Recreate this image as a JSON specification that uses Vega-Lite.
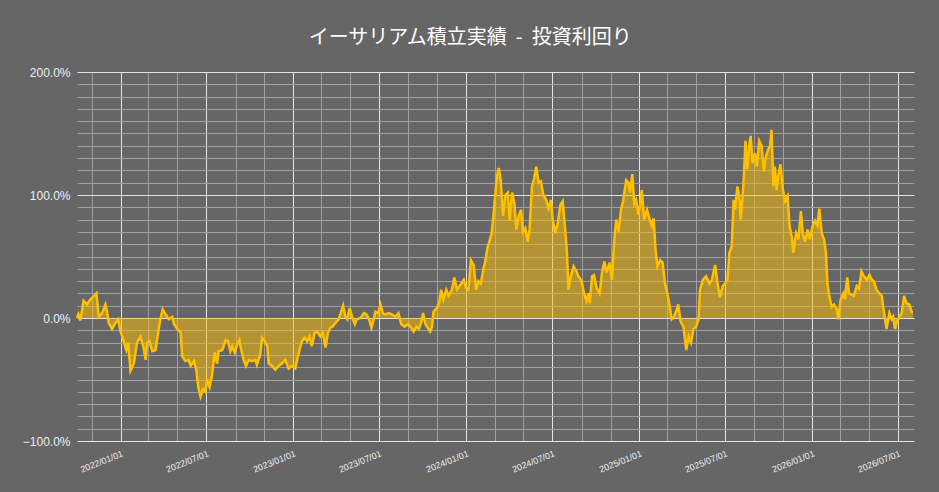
{
  "$schema": "https://vega.github.io/schema/vega-lite/v6.json",
  "width": 837,
  "height": 369,
  "autosize": {"type": "none"},
  "padding": {"left": 77, "top": 72, "right": 25, "bottom": 51},
  "background": "#666666",
  "title": {
    "text": "イーサリアム積立実績\u00a0\u00a0-\u00a0\u00a0投資利回り",
    "color": "#ffffff",
    "fontSize": 20,
    "font": "Noto Sans CJK JP",
    "fontWeight": "normal",
    "anchor": "middle",
    "frame": "bounds",
    "offset": 18
  },
  "config": {
    "view": {"stroke": null},
    "axis": {"title": null, "ticks": false, "domain": false, "gridWidth": 1, "gridOpacity": 1}
  },
  "data": {
    "values": [
      {"d": "2021-10-01", "v": 0}, {"d": "2021-10-04", "v": 3}, {"d": "2021-10-08", "v": -2},
      {"d": "2021-10-11", "v": 5}, {"d": "2021-10-15", "v": 14}, {"d": "2021-10-22", "v": 11},
      {"d": "2021-10-29", "v": 15}, {"d": "2021-11-06", "v": 18}, {"d": "2021-11-11", "v": 20},
      {"d": "2021-11-16", "v": 1}, {"d": "2021-11-23", "v": 4}, {"d": "2021-11-30", "v": 11},
      {"d": "2021-12-04", "v": 4}, {"d": "2021-12-07", "v": -4}, {"d": "2021-12-14", "v": -9},
      {"d": "2021-12-21", "v": -4}, {"d": "2021-12-27", "v": -1}, {"d": "2022-01-01", "v": -11},
      {"d": "2022-01-08", "v": -19}, {"d": "2022-01-13", "v": -26}, {"d": "2022-01-17", "v": -20},
      {"d": "2022-01-22", "v": -43}, {"d": "2022-01-29", "v": -37}, {"d": "2022-02-05", "v": -20},
      {"d": "2022-02-12", "v": -15}, {"d": "2022-02-18", "v": -23}, {"d": "2022-02-23", "v": -34},
      {"d": "2022-02-26", "v": -20}, {"d": "2022-03-03", "v": -19}, {"d": "2022-03-09", "v": -27},
      {"d": "2022-03-16", "v": -26}, {"d": "2022-03-19", "v": -18}, {"d": "2022-03-26", "v": -1},
      {"d": "2022-03-31", "v": 7}, {"d": "2022-04-06", "v": 3}, {"d": "2022-04-13", "v": -1},
      {"d": "2022-04-20", "v": 1}, {"d": "2022-04-24", "v": -5}, {"d": "2022-05-01", "v": -9},
      {"d": "2022-05-08", "v": -12}, {"d": "2022-05-11", "v": -31}, {"d": "2022-05-18", "v": -35},
      {"d": "2022-05-25", "v": -34}, {"d": "2022-05-29", "v": -39}, {"d": "2022-06-05", "v": -35},
      {"d": "2022-06-10", "v": -42}, {"d": "2022-06-14", "v": -56}, {"d": "2022-06-19", "v": -64},
      {"d": "2022-06-24", "v": -58}, {"d": "2022-06-29", "v": -60}, {"d": "2022-07-03", "v": -50},
      {"d": "2022-07-08", "v": -56}, {"d": "2022-07-13", "v": -47}, {"d": "2022-07-19", "v": -28},
      {"d": "2022-07-24", "v": -37}, {"d": "2022-07-27", "v": -27}, {"d": "2022-08-04", "v": -26},
      {"d": "2022-08-11", "v": -18}, {"d": "2022-08-16", "v": -19}, {"d": "2022-08-21", "v": -27},
      {"d": "2022-08-25", "v": -23}, {"d": "2022-08-30", "v": -28}, {"d": "2022-09-04", "v": -22},
      {"d": "2022-09-09", "v": -18}, {"d": "2022-09-13", "v": -26}, {"d": "2022-09-18", "v": -34},
      {"d": "2022-09-23", "v": -39}, {"d": "2022-09-29", "v": -34}, {"d": "2022-10-06", "v": -35},
      {"d": "2022-10-13", "v": -34}, {"d": "2022-10-16", "v": -38}, {"d": "2022-10-23", "v": -30},
      {"d": "2022-10-27", "v": -16}, {"d": "2022-11-02", "v": -19}, {"d": "2022-11-07", "v": -23},
      {"d": "2022-11-10", "v": -37}, {"d": "2022-11-17", "v": -39}, {"d": "2022-11-24", "v": -42},
      {"d": "2022-12-01", "v": -39}, {"d": "2022-12-08", "v": -37}, {"d": "2022-12-15", "v": -34},
      {"d": "2022-12-22", "v": -41}, {"d": "2022-12-29", "v": -39}, {"d": "2023-01-05", "v": -41},
      {"d": "2023-01-09", "v": -34}, {"d": "2023-01-14", "v": -26}, {"d": "2023-01-19", "v": -19},
      {"d": "2023-01-25", "v": -16}, {"d": "2023-01-30", "v": -19}, {"d": "2023-02-04", "v": -15},
      {"d": "2023-02-09", "v": -23}, {"d": "2023-02-15", "v": -12}, {"d": "2023-02-20", "v": -11},
      {"d": "2023-02-27", "v": -15}, {"d": "2023-03-04", "v": -12}, {"d": "2023-03-10", "v": -24},
      {"d": "2023-03-15", "v": -12}, {"d": "2023-03-20", "v": -8}, {"d": "2023-03-25", "v": -7},
      {"d": "2023-03-31", "v": -4}, {"d": "2023-04-07", "v": -1}, {"d": "2023-04-12", "v": 5},
      {"d": "2023-04-16", "v": 10}, {"d": "2023-04-21", "v": 1}, {"d": "2023-04-25", "v": -1},
      {"d": "2023-04-30", "v": 8}, {"d": "2023-05-05", "v": 1}, {"d": "2023-05-11", "v": -5},
      {"d": "2023-05-15", "v": -1}, {"d": "2023-05-23", "v": 0}, {"d": "2023-05-30", "v": 4},
      {"d": "2023-06-04", "v": 3}, {"d": "2023-06-09", "v": 0}, {"d": "2023-06-15", "v": -8},
      {"d": "2023-06-20", "v": -1}, {"d": "2023-06-23", "v": 5}, {"d": "2023-06-29", "v": 4},
      {"d": "2023-07-04", "v": 11}, {"d": "2023-07-09", "v": 4}, {"d": "2023-07-14", "v": 3},
      {"d": "2023-07-21", "v": 4}, {"d": "2023-07-28", "v": 3}, {"d": "2023-08-04", "v": 1},
      {"d": "2023-08-11", "v": 4}, {"d": "2023-08-17", "v": -5}, {"d": "2023-08-24", "v": -7},
      {"d": "2023-08-31", "v": -5}, {"d": "2023-09-07", "v": -8}, {"d": "2023-09-12", "v": -11},
      {"d": "2023-09-18", "v": -7}, {"d": "2023-09-23", "v": -9}, {"d": "2023-09-28", "v": -4},
      {"d": "2023-10-02", "v": 4}, {"d": "2023-10-07", "v": -5}, {"d": "2023-10-12", "v": -8},
      {"d": "2023-10-17", "v": -11}, {"d": "2023-10-21", "v": -7}, {"d": "2023-10-24", "v": 5},
      {"d": "2023-10-31", "v": 8}, {"d": "2023-11-05", "v": 12}, {"d": "2023-11-09", "v": 23},
      {"d": "2023-11-14", "v": 15}, {"d": "2023-11-20", "v": 23}, {"d": "2023-11-25", "v": 18},
      {"d": "2023-12-02", "v": 23}, {"d": "2023-12-07", "v": 33}, {"d": "2023-12-13", "v": 23},
      {"d": "2023-12-20", "v": 27}, {"d": "2023-12-27", "v": 31}, {"d": "2024-01-01", "v": 24},
      {"d": "2024-01-06", "v": 23}, {"d": "2024-01-11", "v": 47}, {"d": "2024-01-17", "v": 43},
      {"d": "2024-01-22", "v": 23}, {"d": "2024-01-27", "v": 30}, {"d": "2024-02-01", "v": 28},
      {"d": "2024-02-07", "v": 41}, {"d": "2024-02-10", "v": 45}, {"d": "2024-02-15", "v": 57},
      {"d": "2024-02-21", "v": 65}, {"d": "2024-02-24", "v": 69}, {"d": "2024-02-28", "v": 85},
      {"d": "2024-03-02", "v": 98}, {"d": "2024-03-06", "v": 115}, {"d": "2024-03-10", "v": 122},
      {"d": "2024-03-14", "v": 112}, {"d": "2024-03-19", "v": 83}, {"d": "2024-03-24", "v": 100},
      {"d": "2024-03-29", "v": 102}, {"d": "2024-04-02", "v": 79}, {"d": "2024-04-07", "v": 102},
      {"d": "2024-04-12", "v": 93}, {"d": "2024-04-16", "v": 72}, {"d": "2024-04-21", "v": 83},
      {"d": "2024-04-26", "v": 88}, {"d": "2024-04-30", "v": 70}, {"d": "2024-05-05", "v": 73},
      {"d": "2024-05-10", "v": 62}, {"d": "2024-05-14", "v": 72}, {"d": "2024-05-19", "v": 107},
      {"d": "2024-05-24", "v": 114}, {"d": "2024-05-28", "v": 123}, {"d": "2024-06-02", "v": 110},
      {"d": "2024-06-07", "v": 111}, {"d": "2024-06-12", "v": 100}, {"d": "2024-06-18", "v": 96},
      {"d": "2024-06-23", "v": 89}, {"d": "2024-06-28", "v": 96}, {"d": "2024-07-02", "v": 80},
      {"d": "2024-07-07", "v": 69}, {"d": "2024-07-12", "v": 76}, {"d": "2024-07-18", "v": 92},
      {"d": "2024-07-23", "v": 95}, {"d": "2024-07-28", "v": 73}, {"d": "2024-08-01", "v": 53},
      {"d": "2024-08-04", "v": 23}, {"d": "2024-08-09", "v": 34}, {"d": "2024-08-15", "v": 42},
      {"d": "2024-08-21", "v": 38}, {"d": "2024-08-25", "v": 34}, {"d": "2024-09-01", "v": 30},
      {"d": "2024-09-06", "v": 20}, {"d": "2024-09-11", "v": 14}, {"d": "2024-09-15", "v": 20},
      {"d": "2024-09-18", "v": 12}, {"d": "2024-09-23", "v": 34}, {"d": "2024-09-27", "v": 35},
      {"d": "2024-10-03", "v": 24}, {"d": "2024-10-09", "v": 20}, {"d": "2024-10-14", "v": 37},
      {"d": "2024-10-19", "v": 46}, {"d": "2024-10-24", "v": 37}, {"d": "2024-10-30", "v": 45},
      {"d": "2024-11-04", "v": 31}, {"d": "2024-11-09", "v": 64}, {"d": "2024-11-13", "v": 80},
      {"d": "2024-11-18", "v": 70}, {"d": "2024-11-23", "v": 88}, {"d": "2024-11-28", "v": 96},
      {"d": "2024-12-04", "v": 112}, {"d": "2024-12-09", "v": 110}, {"d": "2024-12-12", "v": 102},
      {"d": "2024-12-17", "v": 117}, {"d": "2024-12-21", "v": 93}, {"d": "2024-12-25", "v": 96},
      {"d": "2024-12-30", "v": 84}, {"d": "2025-01-03", "v": 93}, {"d": "2025-01-06", "v": 104},
      {"d": "2025-01-11", "v": 80}, {"d": "2025-01-17", "v": 88}, {"d": "2025-01-22", "v": 81},
      {"d": "2025-01-27", "v": 75}, {"d": "2025-01-31", "v": 81}, {"d": "2025-02-04", "v": 56},
      {"d": "2025-02-08", "v": 42}, {"d": "2025-02-14", "v": 47}, {"d": "2025-02-19", "v": 45},
      {"d": "2025-02-24", "v": 28}, {"d": "2025-03-01", "v": 20}, {"d": "2025-03-05", "v": 12},
      {"d": "2025-03-10", "v": -1}, {"d": "2025-03-15", "v": 1}, {"d": "2025-03-21", "v": 7},
      {"d": "2025-03-24", "v": 11}, {"d": "2025-03-29", "v": -3}, {"d": "2025-04-04", "v": -7},
      {"d": "2025-04-10", "v": -26}, {"d": "2025-04-15", "v": -15}, {"d": "2025-04-20", "v": -20},
      {"d": "2025-04-25", "v": -9}, {"d": "2025-05-01", "v": -7}, {"d": "2025-05-06", "v": -1},
      {"d": "2025-05-09", "v": 23}, {"d": "2025-05-15", "v": 31}, {"d": "2025-05-22", "v": 34},
      {"d": "2025-05-29", "v": 28}, {"d": "2025-06-03", "v": 31}, {"d": "2025-06-10", "v": 43},
      {"d": "2025-06-15", "v": 28}, {"d": "2025-06-20", "v": 17}, {"d": "2025-06-26", "v": 26},
      {"d": "2025-07-01", "v": 28}, {"d": "2025-07-06", "v": 31}, {"d": "2025-07-10", "v": 53},
      {"d": "2025-07-15", "v": 58}, {"d": "2025-07-19", "v": 96}, {"d": "2025-07-22", "v": 88},
      {"d": "2025-07-27", "v": 107}, {"d": "2025-07-31", "v": 99}, {"d": "2025-08-03", "v": 80},
      {"d": "2025-08-07", "v": 99}, {"d": "2025-08-10", "v": 118}, {"d": "2025-08-13", "v": 144},
      {"d": "2025-08-17", "v": 121}, {"d": "2025-08-21", "v": 140}, {"d": "2025-08-24", "v": 148},
      {"d": "2025-08-28", "v": 126}, {"d": "2025-09-02", "v": 134}, {"d": "2025-09-06", "v": 123},
      {"d": "2025-09-11", "v": 144}, {"d": "2025-09-16", "v": 140}, {"d": "2025-09-21", "v": 119},
      {"d": "2025-09-25", "v": 131}, {"d": "2025-09-30", "v": 137}, {"d": "2025-10-04", "v": 140},
      {"d": "2025-10-07", "v": 153}, {"d": "2025-10-11", "v": 107}, {"d": "2025-10-14", "v": 123},
      {"d": "2025-10-18", "v": 104}, {"d": "2025-10-21", "v": 115}, {"d": "2025-10-26", "v": 125},
      {"d": "2025-10-31", "v": 104}, {"d": "2025-11-05", "v": 95}, {"d": "2025-11-10", "v": 99},
      {"d": "2025-11-14", "v": 75}, {"d": "2025-11-19", "v": 66}, {"d": "2025-11-22", "v": 53},
      {"d": "2025-11-28", "v": 69}, {"d": "2025-12-03", "v": 64}, {"d": "2025-12-08", "v": 87},
      {"d": "2025-12-12", "v": 69}, {"d": "2025-12-17", "v": 62}, {"d": "2025-12-22", "v": 72},
      {"d": "2025-12-27", "v": 64}, {"d": "2026-01-02", "v": 75}, {"d": "2026-01-07", "v": 79},
      {"d": "2026-01-12", "v": 75}, {"d": "2026-01-16", "v": 89}, {"d": "2026-01-21", "v": 69},
      {"d": "2026-01-26", "v": 64}, {"d": "2026-01-30", "v": 53}, {"d": "2026-02-02", "v": 28},
      {"d": "2026-02-06", "v": 18}, {"d": "2026-02-11", "v": 9}, {"d": "2026-02-16", "v": 11},
      {"d": "2026-02-22", "v": 7}, {"d": "2026-02-25", "v": -1}, {"d": "2026-03-02", "v": 15},
      {"d": "2026-03-08", "v": 20}, {"d": "2026-03-11", "v": 15}, {"d": "2026-03-16", "v": 33},
      {"d": "2026-03-20", "v": 20}, {"d": "2026-03-25", "v": 19}, {"d": "2026-03-30", "v": 18},
      {"d": "2026-04-05", "v": 26}, {"d": "2026-04-10", "v": 24}, {"d": "2026-04-15", "v": 38},
      {"d": "2026-04-20", "v": 34}, {"d": "2026-04-26", "v": 31}, {"d": "2026-05-02", "v": 35},
      {"d": "2026-05-07", "v": 31}, {"d": "2026-05-11", "v": 30}, {"d": "2026-05-17", "v": 23},
      {"d": "2026-05-23", "v": 20}, {"d": "2026-05-28", "v": 18}, {"d": "2026-05-31", "v": 9},
      {"d": "2026-06-04", "v": -1}, {"d": "2026-06-07", "v": -9}, {"d": "2026-06-13", "v": 4},
      {"d": "2026-06-18", "v": -1}, {"d": "2026-06-21", "v": 1}, {"d": "2026-06-25", "v": -9},
      {"d": "2026-06-28", "v": -4}, {"d": "2026-07-04", "v": 1}, {"d": "2026-07-09", "v": 4},
      {"d": "2026-07-14", "v": 18}, {"d": "2026-07-19", "v": 12}, {"d": "2026-07-25", "v": 11},
      {"d": "2026-07-30", "v": 5}, {"d": "2026-08-02", "v": 5}
    ]
  },
  "resolve": {"axis": {"x": "independent", "y": "independent"}},
  "layer": [
    {
      "mark": {"type": "area", "color": "#FFC000", "opacity": 0.5, "interpolate": "linear"},
      "encoding": {
        "x": {
          "field": "d",
          "type": "temporal",
          "scale": {
            "type": "utc",
            "domain": [
              {"year": 2021, "month": 10, "date": 1, "utc": true},
              {"year": 2026, "month": 8, "date": 4, "utc": true}
            ]
          },
          "axis": {
            "orient": "top",
            "labels": false,
            "grid": true,
            "gridColor": "#a0a0a0",
            "values": [
              {"year": 2021, "month": 11, "date": 1, "utc": true},
              {"year": 2022, "month": 3, "date": 1, "utc": true},
              {"year": 2022, "month": 5, "date": 1, "utc": true},
              {"year": 2022, "month": 9, "date": 1, "utc": true},
              {"year": 2022, "month": 11, "date": 1, "utc": true},
              {"year": 2023, "month": 3, "date": 1, "utc": true},
              {"year": 2023, "month": 5, "date": 1, "utc": true},
              {"year": 2023, "month": 9, "date": 1, "utc": true},
              {"year": 2023, "month": 11, "date": 1, "utc": true},
              {"year": 2024, "month": 3, "date": 1, "utc": true},
              {"year": 2024, "month": 5, "date": 1, "utc": true},
              {"year": 2024, "month": 9, "date": 1, "utc": true},
              {"year": 2024, "month": 11, "date": 1, "utc": true},
              {"year": 2025, "month": 3, "date": 1, "utc": true},
              {"year": 2025, "month": 5, "date": 1, "utc": true},
              {"year": 2025, "month": 9, "date": 1, "utc": true},
              {"year": 2025, "month": 11, "date": 1, "utc": true},
              {"year": 2026, "month": 3, "date": 1, "utc": true},
              {"year": 2026, "month": 5, "date": 1, "utc": true}
            ]
          }
        },
        "y": {
          "field": "v",
          "type": "quantitative",
          "stack": null,
          "scale": {"domain": [-100, 200], "nice": false},
          "axis": {
            "orient": "right",
            "labels": false,
            "grid": true,
            "gridColor": "#a0a0a0",
            "values": [-90, -80, -70, -60, -50, -40, -30, -20, -10, 10, 20, 30, 40, 50, 60, 70, 80, 90, 110, 120, 130, 140, 150, 160, 170, 180, 190]
          }
        }
      }
    },
    {
      "mark": {"type": "line", "color": "#FFC000", "strokeWidth": 2.5, "interpolate": "linear"},
      "encoding": {
        "x": {
          "field": "d",
          "type": "temporal",
          "axis": {
            "orient": "bottom",
            "grid": true,
            "gridColor": "#e4e4e4",
            "labelExpr": "utcFormat(datum.value, '%Y/%m/%d')",
            "labelAngle": -22,
            "labelAlign": "right",
            "labelBaseline": "top",
            "labelFont": "Liberation Sans",
            "labelFontSize": 9,
            "labelColor": "#eeeeee",
            "labelPadding": 8,
            "values": [
              {"year": 2022, "month": 1, "date": 1, "utc": true},
              {"year": 2022, "month": 7, "date": 1, "utc": true},
              {"year": 2023, "month": 1, "date": 1, "utc": true},
              {"year": 2023, "month": 7, "date": 1, "utc": true},
              {"year": 2024, "month": 1, "date": 1, "utc": true},
              {"year": 2024, "month": 7, "date": 1, "utc": true},
              {"year": 2025, "month": 1, "date": 1, "utc": true},
              {"year": 2025, "month": 7, "date": 1, "utc": true},
              {"year": 2026, "month": 1, "date": 1, "utc": true},
              {"year": 2026, "month": 7, "date": 1, "utc": true}
            ]
          }
        },
        "y": {
          "field": "v",
          "type": "quantitative",
          "axis": {
            "orient": "left",
            "grid": true,
            "gridColor": "#e4e4e4",
            "values": [-100, 0, 100, 200],
            "labelExpr": "format(datum.value, '.1f') + '%'",
            "labelFont": "Liberation Sans",
            "labelFontSize": 12,
            "labelColor": "#eeeeee",
            "labelPadding": 7
          }
        }
      }
    }
  ]
}
